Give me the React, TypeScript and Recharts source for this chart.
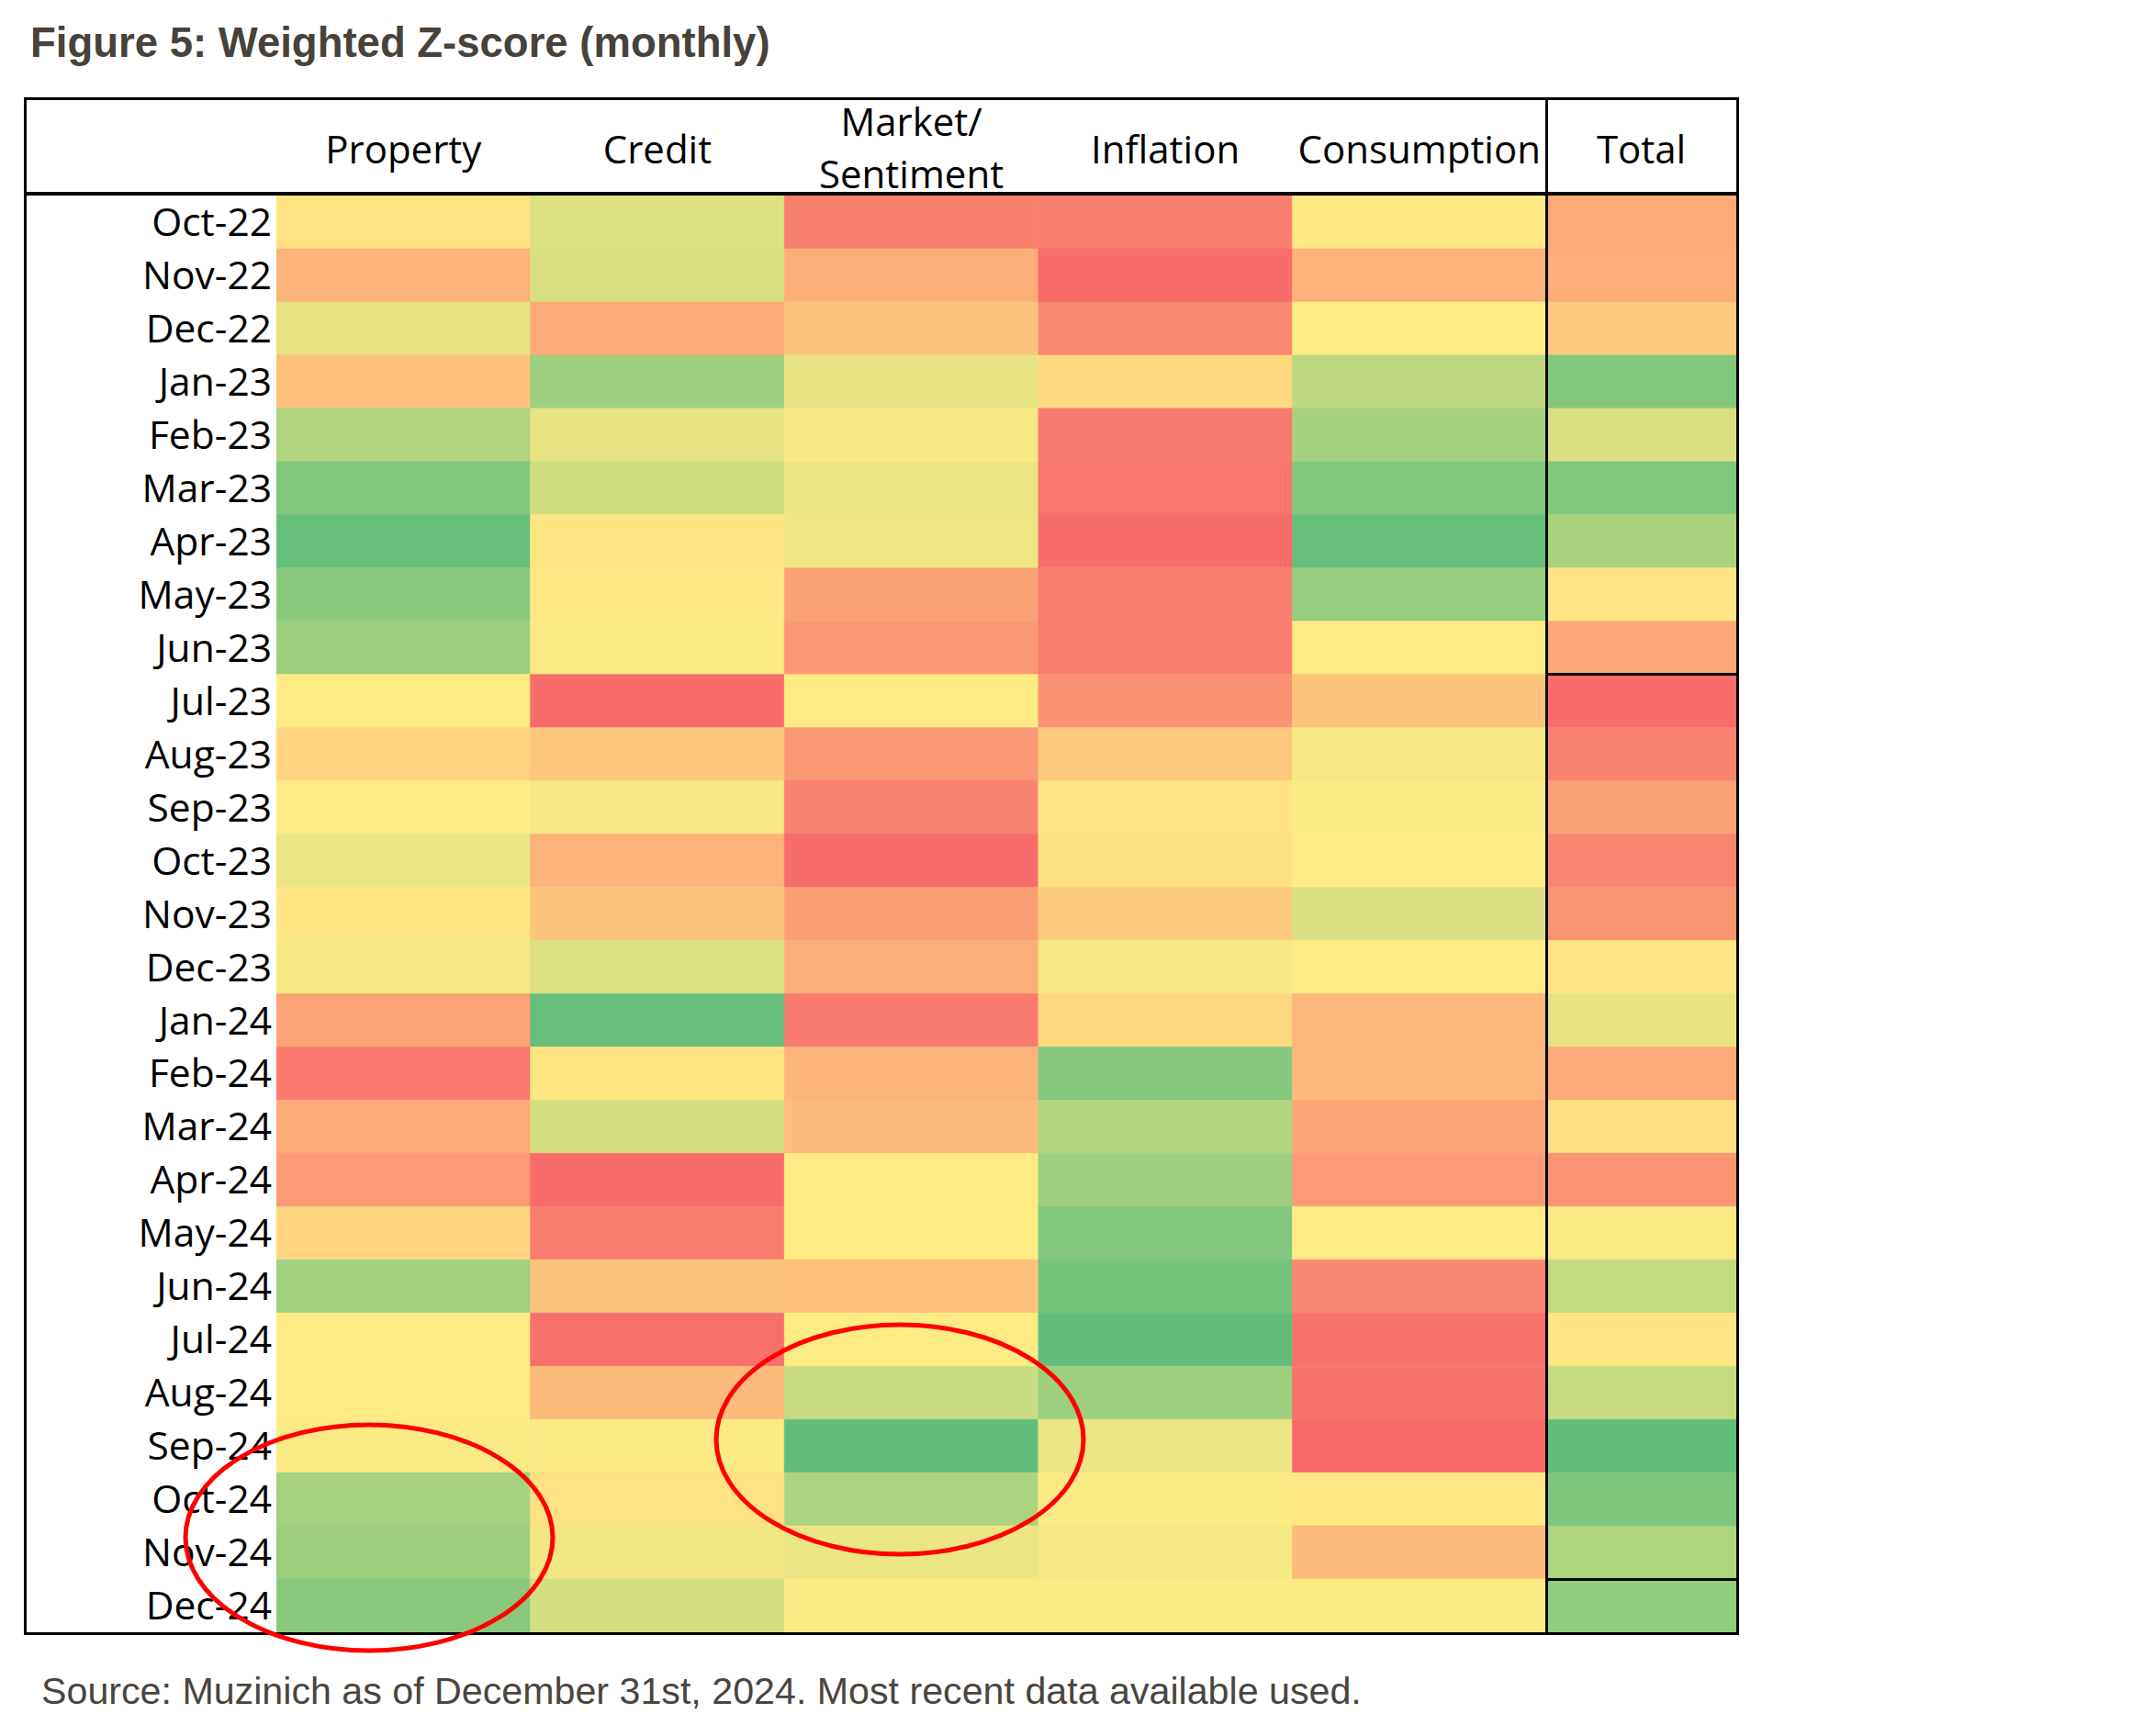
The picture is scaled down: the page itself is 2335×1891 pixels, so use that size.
import { Bar, BarChart, Cell, XAxis, YAxis } from "recharts";

const MONTHS = [
  "Oct-22", "Nov-22", "Dec-22", "Jan-23", "Feb-23", "Mar-23", "Apr-23", "May-23", "Jun-23",
  "Jul-23", "Aug-23", "Sep-23", "Oct-23", "Nov-23", "Dec-23",
  "Jan-24", "Feb-24", "Mar-24", "Apr-24", "May-24", "Jun-24", "Jul-24", "Aug-24", "Sep-24",
  "Oct-24", "Nov-24", "Dec-24",
];

// weighted z-scores (-1 = red, 0 = yellow, 1 = green)
const PROPERTY = [
  -0.07, -0.43, 0.15, -0.32, 0.5, 0.8, 0.97, 0.75, 0.62,
  0, -0.18, 0, 0.13, -0.04, 0.06,
  -0.56, -0.88, -0.49, -0.62, -0.18, 0.6, 0, 0, 0.02, 0.57, 0.63, 0.75,
];
const CREDIT = [
  0.22, 0.24, -0.5, 0.63, 0.15, 0.3, -0.05, -0.02, 0.02,
  -0.97, -0.27, 0.05, -0.42, -0.3, 0.22,
  0.97, -0.04, 0.27, -0.97, -0.85, -0.3, -0.95, -0.38, 0.02, -0.07, 0.08, 0.28,
];
const MARKET = [
  -0.83, -0.47, -0.3, 0.15, 0.04, 0.13, 0.1, -0.57, -0.65,
  0, -0.65, -0.8, -0.97, -0.6, -0.47,
  -0.87, -0.42, -0.36, -0.01, 0, -0.32, 0, 0.36, 1.0, 0.53, 0.13, 0.02,
];
const INFLATION = [
  -0.82, -0.97, -0.75, -0.13, -0.87, -0.9, -0.97, -0.84, -0.84,
  -0.68, -0.26, -0.05, -0.08, -0.25, 0.04,
  -0.15, 0.78, 0.5, 0.62, 0.8, 0.88, 1.0, 0.63, 0.13, 0.02, 0.05, 0.02,
];
const CONSUMPTION = [
  -0.02, -0.44, 0, 0.42, 0.58, 0.8, 0.97, 0.67, 0,
  -0.3, 0.06, 0.02, 0, 0.24, 0,
  -0.4, -0.4, -0.53, -0.62, 0, -0.77, -0.92, -0.92, -1.0, -0.03, -0.38, 0.02,
];
const TOTAL = [
  -0.5, -0.48, -0.25, 0.8, 0.24, 0.8, 0.55, -0.05, -0.52,
  -0.97, -0.8, -0.57, -0.78, -0.66, -0.05,
  0.15, -0.49, -0.09, -0.67, 0.03, 0.38, -0.05, 0.36, 1.0, 0.82, 0.52, 0.7,
];

const COLUMNS = [
  { key: "property", label: ["Property"], values: PROPERTY },
  { key: "credit", label: ["Credit"], values: CREDIT },
  { key: "market", label: ["Market/", "Sentiment"], values: MARKET },
  { key: "inflation", label: ["Inflation"], values: INFLATION },
  { key: "consumption", label: ["Consumption"], values: CONSUMPTION },
  { key: "total", label: ["Total"], values: TOTAL },
];

const TOTAL_W = 0.748; // total column is narrower than the others
const RED = [248, 105, 107];
const YELLOW = [255, 235, 132];
const GREEN = [99, 190, 123];

function zColor(v: number) {
  const t = Math.min(1, Math.abs(v));
  const end = v < 0 ? RED : GREEN;
  const c = YELLOW.map((y, i) => Math.round(y + (end[i] - y) * t));
  return `rgb(${c[0]},${c[1]},${c[2]})`;
}

const rows = MONTHS.map((month) => ({ month }));

const FONT = "'Open Sans', sans-serif";
const ARIAL = "'Liberation Sans', Arial, sans-serif";

// geometry of the table
const LEFT = 27;
const LABEL_W = 274;
const GRID_TOP = 213;
const GRID_BOTTOM = 1778;
const RIGHT = 1891;
const COL_W = (RIGHT - LEFT - LABEL_W) / (5 + TOTAL_W);

function line(left: number, top: number, width: number, height: number) {
  return (
    <div style={{ position: "absolute", left, top, width, height, background: "#000", zIndex: 2 }} />
  );
}

export default function App() {
  const totalX = LEFT + LABEL_W + 5 * COL_W;
  const rowH = (GRID_BOTTOM - GRID_TOP) / MONTHS.length;
  return (
    <div style={{ position: "absolute", left: 0, top: 0, width: 2335, height: 1891, background: "#fff" }}>
      <div
        style={{
          position: "absolute", left: 33, top: 19, lineHeight: "56px", fontSize: 45.5,
          fontFamily: ARIAL, fontWeight: "bold", color: "#47423a", whiteSpace: "nowrap",
        }}
      >
        Figure 5: Weighted Z-score (monthly)
      </div>

      {COLUMNS.map((col, ci) => {
        const x0 = LEFT + LABEL_W + ci * COL_W;
        const w = ci === 5 ? COL_W * TOTAL_W : COL_W;
        const top = col.label.length > 1 ? 103 : 133;
        return (
          <div
            key={col.key}
            style={{
              position: "absolute", left: x0 - 40, width: w + 80, top, textAlign: "center",
              fontFamily: FONT, fontSize: 42, lineHeight: "57px", color: "#000",
            }}
          >
            {col.label.map((l) => (
              <div key={l}>{l}</div>
            ))}
          </div>
        );
      })}

      <div style={{ position: "absolute", left: LEFT, top: GRID_TOP }}>
        <BarChart
          width={RIGHT - LEFT}
          height={GRID_BOTTOM - GRID_TOP}
          data={rows}
          layout="vertical"
          margin={{ top: 0, right: 0, bottom: 0, left: 0 }}
          barCategoryGap={0}
          barGap={0}
        >
          <XAxis type="number" hide domain={[0, 5 + TOTAL_W]} allowDataOverflow />
          <YAxis
            type="category"
            dataKey="month"
            width={LABEL_W}
            axisLine={false}
            tickLine={false}
            tickSize={0}
            tickMargin={5}
            interval={0}
            tick={{ fontFamily: FONT, fontSize: 42.5, fill: "#000" }}
          />
          {COLUMNS.map((col, ci) => (
            <Bar
              key={col.key}
              dataKey={() => (ci === 5 ? TOTAL_W : 1)}
              stackId="z"
              isAnimationActive={false}
            >
              {col.values.map((v, i) => (
                <Cell key={i} fill={zColor(v)} stroke={zColor(v)} strokeWidth={0.6} />
              ))}
            </Bar>
          ))}
        </BarChart>
      </div>

      {/* table frame */}
      {line(LEFT - 1, 106, RIGHT - LEFT + 4, 3)}
      {line(LEFT - 1, 209, RIGHT - LEFT + 4, 4)}
      {line(LEFT - 1, 106, 3, GRID_BOTTOM - 106 + 3)}
      {line(RIGHT, 106, 3, GRID_BOTTOM - 106 + 3)}
      {line(LEFT - 1, GRID_BOTTOM, RIGHT - LEFT + 4, 3)}
      {line(totalX - 1.5, 106, 3, GRID_BOTTOM - 106)}
      {line(totalX, GRID_TOP + 9 * rowH - 1.5, RIGHT - totalX, 3)}
      {line(totalX, GRID_TOP + 26 * rowH - 1.5, RIGHT - totalX, 3)}

      <svg
        width={2335}
        height={1891}
        style={{ position: "absolute", left: 0, top: 0, zIndex: 3, pointerEvents: "none" }}
      >
        <ellipse cx={402} cy={1675} rx={200} ry={123} fill="none" stroke="#ff0000" strokeWidth={5} />
        <ellipse cx={980} cy={1568} rx={200} ry={125} fill="none" stroke="#ff0000" strokeWidth={5} />
      </svg>

      <div
        style={{
          position: "absolute", left: 45, top: 1817, lineHeight: "50px", fontSize: 41.2,
          fontFamily: ARIAL, color: "#4a453e", whiteSpace: "nowrap",
        }}
      >
        Source: Muzinich as of December 31st, 2024. Most recent data available used.
      </div>
    </div>
  );
}
